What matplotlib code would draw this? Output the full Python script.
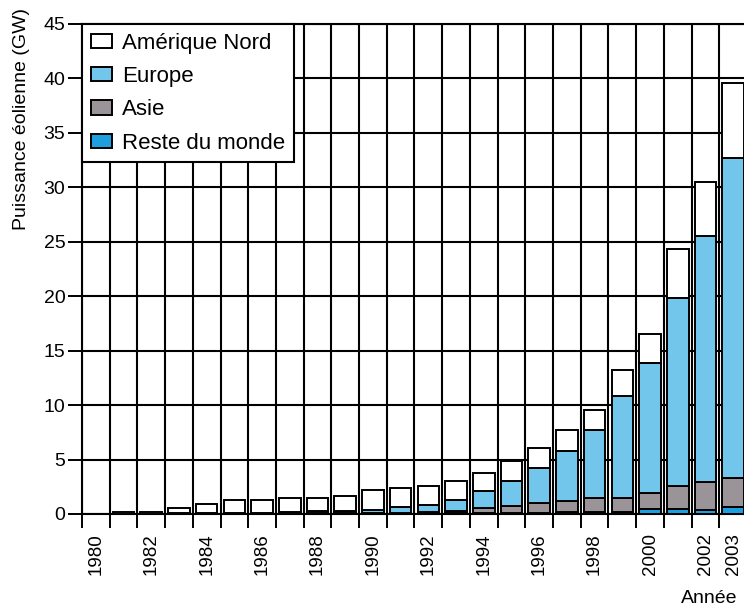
import matplotlib
matplotlib.use("Agg")
import matplotlib.pyplot as plt
import numpy as np

plt.rcParams['font.family'] = ['Liberation Sans', 'DejaVu Sans']

years = list(range(1980, 2004))
tick_labels = ["1980", "1982", "1984", "1986", "1988", "1990", "1992", "1994",
               "1996", "1998", "2000", "2002", "2003"]
reste = [0, 0, 0, 0, 0, 0, 0, 0, 0.02, 0.02, 0.03, 0.03, 0.05, 0.05, 0.05, 0.1,
         0.1, 0.15, 0.15, 0.2, 0.45, 0.45, 0.4, 0.6]
asie = [0, 0, 0, 0, 0, 0, 0.02, 0.02, 0.03, 0.03, 0.04, 0.07, 0.1, 0.25, 0.5, 0.65,
        0.9, 1.0, 1.3, 1.3, 1.45, 2.1, 2.57, 2.7]
europe = [0, 0, 0, 0.05, 0.05, 0.05, 0.08, 0.13, 0.2, 0.25, 0.28, 0.55, 0.65, 1.0,
          1.6, 2.3, 3.2, 4.65, 6.25, 9.35, 12.0, 17.3, 22.58, 29.4]
amerique = [0, 0.15, 0.2, 0.5, 0.85, 1.25, 1.2, 1.3, 1.25, 1.35, 1.85, 1.75, 1.8,
            1.75, 1.65, 1.85, 1.85, 1.9, 1.85, 2.35, 2.6, 4.45, 4.95, 6.9]

series = [("Reste du monde", reste, "#1c9fdc"),
          ("Asie", asie, "#9a9499"),
          ("Europe", europe, "#72c6ec"),
          ("Amérique Nord", amerique, "#ffffff")]

fig = plt.figure(figsize=(7.44, 6.07), dpi=100)
ax = fig.add_axes([82/744, 1 - 514/607, 665/744, 490/607])

x = np.arange(len(years))
bottom = np.zeros(len(years))
handles = {}
for name, vals, col in series:
    v = np.array(vals, dtype=float)
    b = ax.bar(x, v, width=0.78, bottom=bottom, color=col, edgecolor="black",
               linewidth=1.4, zorder=3)
    handles[name] = b
    bottom += v

ax.set_xlim(-0.5, len(years) - 0.5)
ax.set_ylim(0, 45)

# major x ticks at cell boundaries with grid
ax.set_xticks(np.arange(-0.5, len(years), 1.0))
ax.set_xticklabels([])
ax.tick_params(axis='x', which='major', direction='out', length=10, width=1.4,
               color='black')
label_pos = [years.index(int(t)) for t in tick_labels]
ax.set_xticks(label_pos, minor=True)
ax.set_xticklabels(tick_labels, minor=True, rotation=90, fontsize=13.5)
ax.tick_params(axis='x', which='minor', length=0, pad=14)

ax.set_yticks(np.arange(0, 46, 5))
ax.set_yticklabels([str(v) for v in range(0, 46, 5)], fontsize=14)
ax.tick_params(axis='y', direction='out', length=10, width=1.4, pad=2)

ax.grid(True, which='major', color='black', linewidth=1.5, zorder=0)
ax.set_axisbelow(True)
for s in ['left', 'bottom', 'top', 'right']:
    ax.spines[s].set_linewidth(1.5)

order = ["Amérique Nord", "Europe", "Asie", "Reste du monde"]
leg = ax.legend([handles[n] for n in order], order, loc='upper left',
                borderaxespad=0, fontsize=16, fancybox=False, framealpha=1,
                edgecolor='black', handlelength=0.95, handleheight=0.6,
                handletextpad=0.45, labelspacing=0.55, borderpad=0.4)
leg.get_frame().set_linewidth(1.5)
leg.set_zorder(5)

fig.text(22/744, 1 - 8/607, "Puissance éolienne (GW)", rotation=90,
         ha='center', va='top', fontsize=14)
fig.text(681/744, 1 - 603/607, "Année", ha='left', va='baseline', fontsize=14)

fig.savefig("out.png", dpi=100)
